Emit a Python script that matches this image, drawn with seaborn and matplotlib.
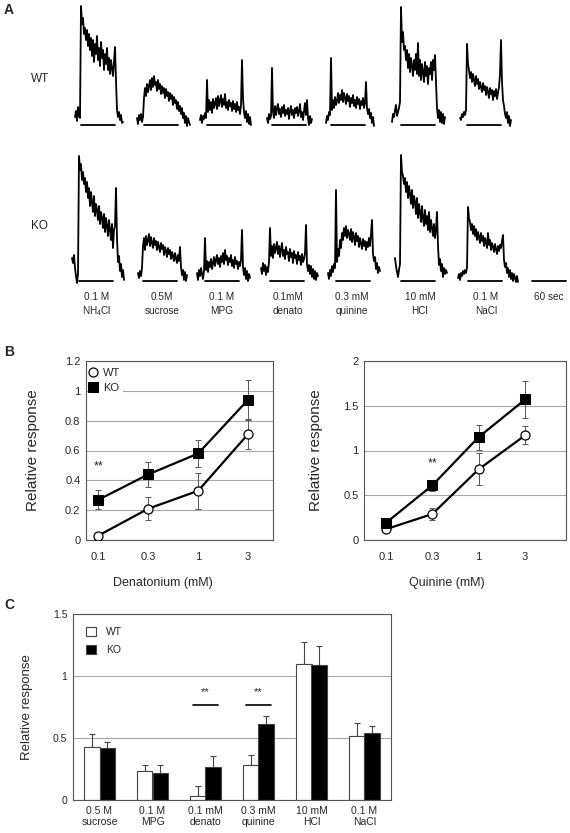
import matplotlib.pyplot as plt
import seaborn as sns
import numpy as np
import pandas as pd

# ---------------- panel A : chorda tympani recordings (amplitude, a.u.) ----------------
# one sample ~ 1.76 s, stimulus bar = 60 s
wt_nh4cl = [3, 9, -1, 13, 4, 2,
            114, 96, 102, 86, 92, 80, 90, 74, 86, 70, 82, 64, 80, 58, 76, 66, 84, 60, 72, 54,
            78, 62, 70, 50, 66, 56, 72, 50, 62, 46, 60, 52, 44, 58,
            73, 40, 10, 3, 8, 0, 5, -3, -2]
wt_sucrose = [2, -4, 5, 0, 6, -2, 3,
              22, 32, 24, 36, 28, 34, 40, 30, 42, 33, 44, 35, 38, 29, 40, 31, 36, 26, 34, 27,
              32, 22, 31, 24, 28, 19, 27, 21, 25, 15, 23, 17, 20, 11, 18, 9, 14, 6, 12, 2,
              7, -3, 4, -6, 2, -2, -5]
wt_mpg = [0, 5, -3, 4, 1, 7, 2,
          40, 8, 20, 10, 18, 7, 21, 12, 16, 22, 11, 24, 14, 19, 25, 13, 21, 15, 26, 12,
          18, 10, 20, 14, 17, 9, 19, 11, 16, 8, 18, 10, 13, 6, 15, 60, 22, 8, 2, 9, -2, 6, -4,
          3, -5]
wt_denato = [2, -3, 6, 1, 4,
             52, 8, 2, 14, 5, 12, 16, 6, 11, 3, 13, 7, 15, 4, 10, 6, 12, 1, 9, 14, 5, 10, 2,
             12, 7, 13, 4, 9, 16, 3, 8, 0, 9, 17, 5, 20, 2, -5, 4, -3, 1]
wt_quinine = [-3, 4, 0, 8, 5,
              62, 10, 20, 12, 23, 15, 19, 27, 17, 25, 20, 30, 18, 27, 22, 16, 26, 19, 24, 13,
              22, 17, 25, 14, 20, 12, 23, 16, 21, 11, 19, 15, 22, 12, 17, 38, 12, 6, 11, 2, 7,
              -3, 3, -6]
wt_hcl = [-2, 6, 3, 10, 15, 4, 8, 12, 18,
          113, 78, 88, 70, 74, 60, 70, 52, 66, 48, 62, 54, 44, 60, 50, 66, 46, 77, 44, 60,
          40, 56, 48, 38, 58, 44, 54, 36, 52, 46, 58, 40, 60, 50, 65, 38, 12, 2, 10, -2, 8,
          -3, 6, -4, 3]
wt_nacl = [2, 0, 6, 3, 8, 5, 10,
           76, 56, 50, 42, 48, 38, 46, 40, 34, 44, 36, 41, 31, 38, 33, 28, 37, 30, 34, 25,
           33, 28, 22, 32, 26, 30, 20, 29, 24, 31, 21, 27, 33, 46, 80, 38, 20, 14, 6, 2, 8,
           -3, 4, -6, 0]

ko_nh4cl = [18, 13, 21, 8, 0, -7, 2,
            120, 106, 112, 96, 104, 92, 98, 84, 94, 78, 88, 70, 84, 74, 64, 80, 60, 72, 66,
            56, 70, 52, 64, 58, 48, 62, 44, 58, 50, 40, 56, 46, 36, 52, 28, 46, 50, 88, 38,
            14, 20, 5, 12, -1, 6, -4]
ko_sucrose = [3, -2, 5, 0, 8,
              30, 38, 26, 40, 31, 36, 42, 30, 39, 33, 28, 38, 31, 35, 26, 34, 29, 24, 33, 27,
              31, 21, 29, 25, 19, 28, 22, 26, 17, 24, 20, 15, 23, 18, 13, 21, 15, 29, 9, 1,
              6, -4, 4, -5, 1]
ko_mpg = [3, -4, 6, 0, 8, 2, -3, 5,
          38, 6, 15, 4, 14, 9, 17, 7, 13, 19, 10, 16, 21, 12, 18, 9, 20, 14, 23, 12,
          26, 16, 20, 11, 18, 14, 21, 10, 16, 8, 19, 12, 15, 7, 14, 10, 16, 46, 9, 1,
          8, -3, 5, -5, 2, -2]
ko_denato = [8, 2, 13, 5, 11, 1, 9, 4, 14,
             48, 20, 30, 18, 32, 23, 28, 34, 22, 30, 19, 27, 33, 20, 26, 17, 29, 22, 24, 15,
             27, 19, 23, 13, 25, 18, 21, 12, 24, 16, 20, 11, 22, 14, 17, 23, 51, 12, 5, 11,
             2, 10, -1, 7, -3, 5, -4, 3, 0]
ko_quinine = [3, -3, 6, 0, 10, 4, 12, 8,
              86, 14, 27, 20, 36, 28, 43, 36, 48, 40, 50, 38, 46, 42, 36, 47, 34, 44, 39, 31,
              43, 35, 40, 29, 38, 33, 27, 37, 30, 35, 26, 34, 29, 38, 30, 42, 56, 22, 15, 19,
              7, 13, 3, 9, 5]
ko_hcl = [18, 10, 4, -1, 6, 12,
          121, 104, 100, 92, 98, 84, 94, 78, 90, 82, 72, 86, 68, 80, 74, 62, 78, 58, 72, 64,
          54, 70, 58, 50, 66, 52, 60, 46, 64, 44, 56, 48, 40, 52, 38, 46, 64, 30, 11, 17,
          5, 12, -1, 8, 2, 6, 3]
ko_nacl = [-2, 2, -4, 3, 0, 5, 2, 6, 3, 8,
           69, 58, 54, 46, 52, 42, 50, 40, 47, 36, 44, 39, 33, 43, 35, 40, 30, 38, 34, 28,
           43, 31, 36, 26, 33, 29, 24, 32, 27, 22, 30, 25, 31, 28, 35, 41, 16, 9, 13, 3,
           8, -1, 6, -3, 3, -5, 2, -2, -6, 0, -6]

wt_traces = [wt_nh4cl, wt_sucrose, wt_mpg, wt_denato, wt_quinine, wt_hcl, wt_nacl]
ko_traces = [ko_nh4cl, ko_sucrose, ko_mpg, ko_denato, ko_quinine, ko_hcl, ko_nacl]
wt_pre = [6, 7, 7, 5, 5, 9, 7]      # samples before stimulus onset
ko_pre = [7, 5, 8, 9, 8, 6, 10]
stim_len = 34                       # 60 sec
stim_conc = ['0.1 M', '0.5M', '0.1 M', '0.1mM', '0.3 mM', '10 mM', '0.1 M']
stim_name = ['NH$_4$Cl', 'sucrose', 'MPG', 'denato', 'quinine', 'HCl', 'NaCl']

# ---------------- panel B : dose response ----------------
conc = ['0.1', '0.3', '1', '3']
den_wt = [0.03, 0.21, 0.33, 0.71]
den_wt_err = [0.02, 0.075, 0.12, 0.10]
den_ko = [0.27, 0.44, 0.58, 0.94]
den_ko_err = [0.065, 0.085, 0.09, 0.135]
qui_wt = [0.12, 0.29, 0.79, 1.17]
qui_wt_err = [0.02, 0.07, 0.18, 0.10]
qui_ko = [0.19, 0.61, 1.15, 1.57]
qui_ko_err = [0.02, 0.06, 0.14, 0.21]

# ---------------- panel C : bar chart ----------------
tastants = ['0.5 M\nsucrose', '0.1 M\nMPG', '0.1 mM\ndenato', '0.3 mM\nquinine',
            '10 mM\nHCl', '0.1 M\nNaCl']
c_wt = [0.43, 0.235, 0.035, 0.285, 1.10, 0.515]
c_wt_err = [0.10, 0.05, 0.075, 0.08, 0.175, 0.105]
c_ko = [0.42, 0.22, 0.27, 0.61, 1.09, 0.54]
c_ko_err = [0.05, 0.06, 0.085, 0.065, 0.155, 0.055]

sns.set_style('white')
plt.rcParams['font.family'] = ['Liberation Sans', 'DejaVu Sans']
plt.rcParams['mathtext.fontset'] = 'custom'
plt.rcParams['mathtext.rm'] = 'Liberation Sans'
plt.rcParams['mathtext.it'] = 'Liberation Sans:italic'
plt.rcParams['mathtext.bf'] = 'Liberation Sans:bold'

W, H = 570, 833
fig = plt.figure(figsize=(W / 100, H / 100), dpi=100)

# page axes in pixel units, used for panel A and the labels
page = fig.add_axes([0, 0, 1, 1])
page.set_xlim(0, W)
page.set_ylim(H, 0)
page.axis('off')

wt_x = [75, 137, 200, 267, 326, 392, 460]
ko_x = [72, 138, 197, 261, 328, 395, 458]
rows = [(120, wt_traces, wt_x, wt_pre), (276, ko_traces, ko_x, ko_pre)]
for base, traces, xs, pres in rows:
    for tr, x0, pre in zip(traces, xs, pres):
        x = x0 + np.arange(len(tr))
        page.plot(x, base - np.array(tr), color='black', lw=1.3)
        page.plot([x0 + pre, x0 + pre + stim_len], [base + 5, base + 5], color='black', lw=1.3)
page.plot([532, 532 + stim_len], [281, 281], color='black', lw=1.3)

label_x = [97, 162, 222, 288, 352, 420, 486]
for lx, c, n in zip(label_x, stim_conc, stim_name):
    page.text(lx, 297, c, ha='center', va='center', fontsize=7.2)
    page.text(lx, 311, n, ha='center', va='center', fontsize=7.2)
page.text(549, 297, '60 sec', ha='center', va='center', fontsize=7.2)
page.text(40, 79, 'WT', ha='center', va='center', fontsize=8.5)
page.text(39, 226, 'KO', ha='center', va='center', fontsize=8.5)
for lab, y in [('A', 10), ('B', 352), ('C', 605)]:
    page.text(9, y, lab, ha='center', va='center', fontsize=10, fontweight='bold')


def px_box(x0, y0, x1, y1):
    return [x0 / W, 1 - y1 / H, (x1 - x0) / W, (y1 - y0) / H]


def style_axes(ax, fs):
    for sp in ax.spines.values():
        sp.set_visible(True)
        sp.set_color('#555555')
        sp.set_linewidth(0.8)
    ax.tick_params(length=0, labelsize=fs, pad=4)
    ax.yaxis.grid(True, color='#a8a8a8', lw=0.8)
    ax.set_axisbelow(True)


def dose_panel(ax, wt, wt_err, ko, ko_err, ymax, ystep, xlabel, xlim):
    pos = np.arange(len(conc))
    df = pd.DataFrame({'pos': np.concatenate([pos, pos]),
                       'resp': wt + ko,
                       'genotype': ['WT'] * len(wt) + ['KO'] * len(ko)})
    ax.errorbar(pos, wt, yerr=wt_err, fmt='none', ecolor='#555555', elinewidth=0.7,
                capsize=2, capthick=0.7, zorder=2)
    ax.errorbar(pos, ko, yerr=ko_err, fmt='none', ecolor='#555555', elinewidth=0.7,
                capsize=2, capthick=0.7, zorder=2)
    sns.lineplot(data=df[df.genotype == 'WT'], x='pos', y='resp', ax=ax, color='black',
                 lw=1.6, marker='o', markersize=6.5, markerfacecolor='white',
                 markeredgecolor='black', markeredgewidth=0.9, label='WT', zorder=3)
    sns.lineplot(data=df[df.genotype == 'KO'], x='pos', y='resp', ax=ax, color='black',
                 lw=1.6, marker='s', markersize=6.5, markerfacecolor='black',
                 markeredgecolor='black', label='KO', zorder=3)
    ax.set_xlim(*xlim)
    ax.set_ylim(0, ymax)
    ax.set_xticks(pos)
    ax.set_xticklabels(conc)
    yt = np.arange(0, ymax + 1e-9, ystep)
    ax.set_yticks(yt)
    ax.set_yticklabels([f'{v:g}' for v in yt])
    style_axes(ax, 8)
    ax.tick_params(axis='x', pad=9)
    ax.set_ylabel('Relative response', fontsize=11)
    ax.set_xlabel(xlabel, fontsize=9)


axl = fig.add_axes(px_box(86, 361, 273, 540))
dose_panel(axl, den_wt, den_wt_err, den_ko, den_ko_err, 1.2, 0.2, 'Denatonium (mM)', (-0.25, 3.5))
axl.yaxis.set_label_coords(-0.246, 0.5)
axl.xaxis.set_label_coords(0.41, -0.205)
axl.text(0, 0.49, '**', ha='center', va='center', fontsize=9)
axl.legend(loc='upper left', fontsize=8, frameon=True, facecolor='white', edgecolor='none',
           framealpha=1, handlelength=0, handletextpad=0.9, borderpad=0.3,
           labelspacing=0.45, borderaxespad=0.3)

axr = fig.add_axes(px_box(364, 361, 566, 540))
dose_panel(axr, qui_wt, qui_wt_err, qui_ko, qui_ko_err, 2.0, 0.5, 'Quinine (mM)', (-0.47, 3.88))
axr.yaxis.set_label_coords(-0.203, 0.5)
axr.xaxis.set_label_coords(0.41, -0.205)
axr.text(1, 0.86, '**', ha='center', va='center', fontsize=9)
axr.get_legend().remove()

# panel C
axc = fig.add_axes(px_box(73, 614, 391, 800))
dfc = pd.DataFrame({'tastant': tastants * 2,
                    'resp': c_wt + c_ko,
                    'genotype': ['WT'] * len(c_wt) + ['KO'] * len(c_ko)})
sns.barplot(data=dfc, x='tastant', y='resp', hue='genotype', ax=axc, order=tastants,
            hue_order=['WT', 'KO'], palette={'WT': 'white', 'KO': 'black'},
            width=0.57, edgecolor='#444444', linewidth=0.8, errorbar=None, zorder=2)
for cont, err in zip(axc.containers, [c_wt_err, c_ko_err]):
    for bar, e in zip(cont, err):
        xc = bar.get_x() + bar.get_width() / 2
        h = bar.get_height()
        axc.errorbar([xc], [h], yerr=[[0], [e]], fmt='none', ecolor='#444444',
                     elinewidth=0.8, capsize=2.5, capthick=0.8, zorder=1)
axc.set_ylim(0, 1.5)
axc.set_xlim(-0.5, len(tastants) - 0.5)
axc.set_yticks([0, 0.5, 1, 1.5])
axc.set_yticklabels(['0', '0.5', '1', '1.5'])
style_axes(axc, 7.5)
axc.tick_params(axis='x', pad=4)
axc.set_xlabel('')
axc.set_ylabel('Relative response', fontsize=9.5)
axc.yaxis.set_label_coords(-0.126, 0.5)
for i in [2, 3]:
    axc.plot([i - 0.24, i + 0.24], [0.766, 0.766], color='black', lw=1.2)
    axc.text(i, 0.87, '**', ha='center', va='center', fontsize=8)
axc.legend(loc='upper left', fontsize=7.5, frameon=False, handlelength=1.0,
           handleheight=1.0, handletextpad=1.0, labelspacing=0.75, borderaxespad=0.8)

fig.savefig('out.png', dpi=100)
